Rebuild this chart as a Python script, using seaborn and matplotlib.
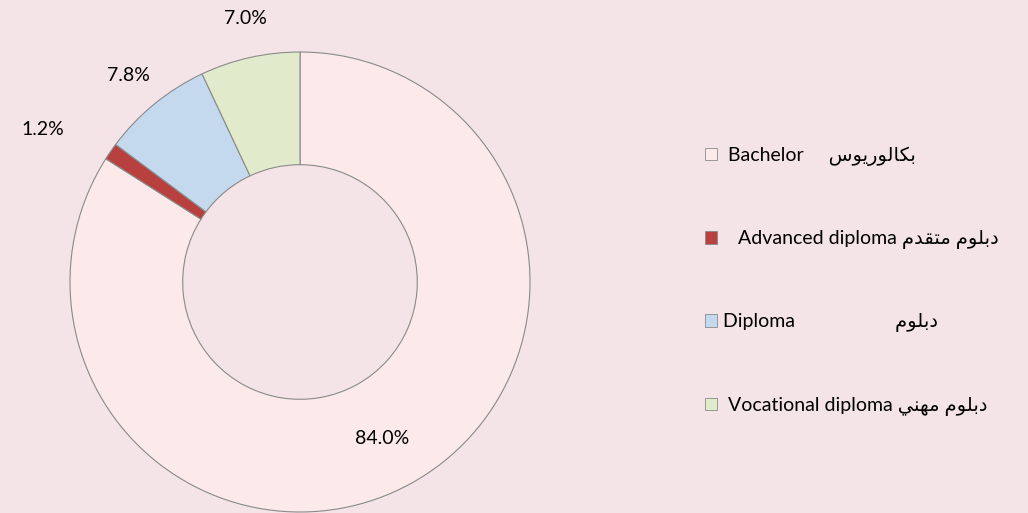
import matplotlib
matplotlib.use("Agg")
import matplotlib.pyplot as plt
import seaborn as sns
import numpy as np

# ---- data ----
categories_en = ["Bachelor", "Advanced diploma", "Diploma", "Vocational diploma"]
# Arabic names written in shaped (presentation) forms, visual order
bachelor_ar = "\uFEB1\uFEEE\uFEF3\uFEAD\uFEEE\uFEDF\uFE8E\uFEDC\uFE91"
diploma_ar = "\uFEE1\uFEEE\uFEE0\uFE91\uFEA9"
advanced_ar = "\uFEE1\uFEAA\uFED8\uFE98\uFEE3" + " " + diploma_ar
vocational_ar = "\uFEF2\uFEE8\uFEEC\uFEE3" + " " + diploma_ar
categories_ar = [bachelor_ar, advanced_ar, diploma_ar, vocational_ar]
shares = [84.0, 1.2, 7.8, 7.0]

# ---- style ----
bg = "#F4E4E8"
colors = ["#FCE9E9", "#B8403E", "#C4D8EE", "#E1EBCB"]
label_dist = [0.77, 1.30, 1.17, 1.17]
label_turn = [-1.0, 4.0, 0.5, -0.8]
legend_labels = [
    f" {categories_en[0]}     {categories_ar[0]}",
    f"   {categories_en[1]} {categories_ar[1]}",
    f"{categories_en[2]}                    {categories_ar[2]}",
    f" {categories_en[3]} {categories_ar[3]}",
]

sns.set_theme(style="white")
plt.rcParams["font.family"] = ["Lato", "DejaVu Sans"]

fig = plt.figure(figsize=(10.28, 5.13), dpi=100, facecolor=bg)
W, H = 1028, 513
cx, cy, R = 300, 282, 230
ax = fig.add_axes([(cx - R) / W, (H - cy - R) / H, 2 * R / W, 2 * R / H])
ax.set_facecolor(bg)

wedges, _ = ax.pie(
    shares,
    colors=colors,
    startangle=90,
    counterclock=False,
    radius=1.0,
    wedgeprops=dict(width=0.49, edgecolor="#8A8A8A", linewidth=0.8),
)
ax.set_xlim(-1, 1)
ax.set_ylim(-1, 1)
ax.set_aspect("equal")
ax.axis("off")

for w, val, d, t in zip(wedges, shares, label_dist, label_turn):
    ang = np.deg2rad((w.theta1 + w.theta2) / 2 + t)
    ax.text(d * np.cos(ang), d * np.sin(ang), f"{val:.1f}%",
            ha="center", va="center", fontsize=14, color="#000000")

leg = fig.legend(
    wedges, legend_labels,
    loc="center left", bbox_to_anchor=(0.669, 0.452),
    frameon=False, fontsize=14,
    handlelength=0.6, handleheight=0.6, handletextpad=0.3,
    labelspacing=3.3,
)
for t in leg.get_texts():
    t.set_color("#000000")
for h in leg.legend_handles:
    h.set_edgecolor("#8A8A8A")
    h.set_linewidth(0.6)

fig.savefig("out.png", dpi=100, facecolor=bg)
